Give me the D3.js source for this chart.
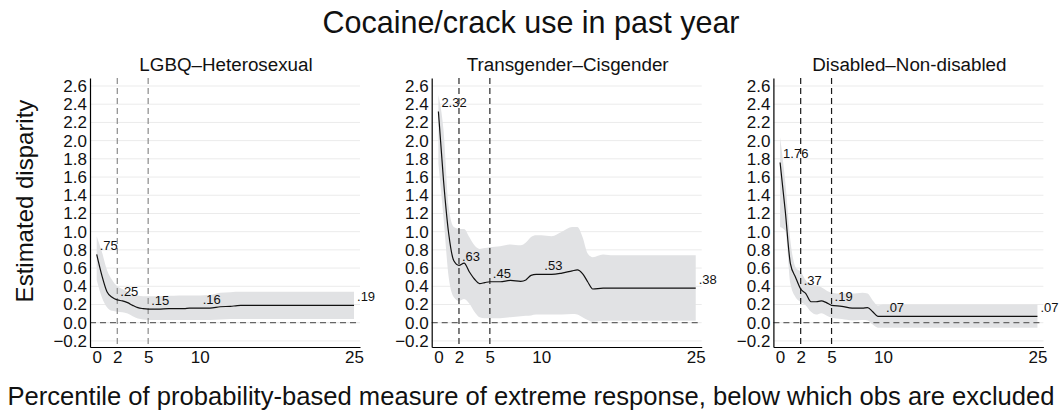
<!DOCTYPE html>
<html>
<head>
<meta charset="utf-8">
<script src="https://cdn.jsdelivr.net/npm/d3@7"></script>
<style>
  html, body { margin: 0; padding: 0; background: #fff; }
  svg { display: block; }
  text { font-family: "Liberation Sans", Arial, Helvetica, sans-serif; fill: #111; }
</style>
</head>
<body>
<svg id="chart" width="1063" height="416"></svg>
<script>
// Percentile cut-offs at which the disparity was re-estimated
const pcts = [0, 0.5, 1, 1.5, 2, 2.5, 3, 3.5, 4, 4.5, 5, 6, 7, 8, 8.5, 9, 9.5, 10, 11, 12, 13, 13.5, 14, 14.5, 15, 16, 17, 20, 25];

// LGBQ–Heterosexual: estimate and confidence band
const lgbqEst = [0.75, 0.52, 0.34, 0.28, 0.25, 0.24, 0.22, 0.19, 0.165, 0.155, 0.15, 0.15, 0.155, 0.155, 0.155, 0.16, 0.16, 0.16, 0.16, 0.175, 0.18, 0.185, 0.19, 0.19, 0.19, 0.19, 0.19, 0.19, 0.19];
const lgbqHi  = [0.95, 0.78, 0.58, 0.47, 0.40, 0.37, 0.34, 0.31, 0.30, 0.29, 0.29, 0.29, 0.295, 0.30, 0.30, 0.30, 0.30, 0.30, 0.305, 0.33, 0.335, 0.34, 0.34, 0.34, 0.34, 0.34, 0.34, 0.34, 0.34];
const lgbqLo  = [0.47, 0.28, 0.17, 0.13, 0.12, 0.115, 0.10, 0.07, 0.045, 0.035, 0.03, 0.03, 0.03, 0.03, 0.03, 0.03, 0.03, 0.03, 0.03, 0.035, 0.04, 0.04, 0.04, 0.04, 0.04, 0.04, 0.04, 0.04, 0.04];

// Transgender–Cisgender
const transEst = [2.32, 1.56, 0.98, 0.68, 0.63, 0.655, 0.56, 0.48, 0.43, 0.44, 0.45, 0.45, 0.465, 0.455, 0.47, 0.52, 0.53, 0.53, 0.53, 0.545, 0.57, 0.58, 0.54, 0.45, 0.37, 0.38, 0.38, 0.38, 0.38];
const transHi  = [2.50, 2.11, 1.27, 1.05, 1.03, 1.03, 0.94, 0.85, 0.81, 0.82, 0.83, 0.84, 0.86, 0.85, 0.88, 0.94, 0.96, 0.96, 0.95, 1.00, 1.05, 1.05, 0.94, 0.76, 0.72, 0.75, 0.74, 0.74, 0.74];
const transLo  = [1.75, 1.15, 0.50, 0.28, 0.24, 0.26, 0.21, 0.12, 0.06, 0.05, 0.05, 0.05, 0.06, 0.07, 0.075, 0.08, 0.09, 0.09, 0.09, 0.09, 0.095, 0.09, 0.06, 0.03, 0.01, 0.02, 0.02, 0.02, 0.02];

// Disabled–Non-disabled
const disabEst = [1.76, 1.23, 0.65, 0.50, 0.37, 0.32, 0.23, 0.23, 0.24, 0.22, 0.19, 0.18, 0.16, 0.16, 0.165, 0.12, 0.07, 0.07, 0.07, 0.07, 0.07, 0.07, 0.07, 0.07, 0.07, 0.07, 0.07, 0.07, 0.07];
const disabHi  = [2.04, 1.55, 0.90, 0.61, 0.56, 0.465, 0.41, 0.41, 0.39, 0.355, 0.33, 0.32, 0.32, 0.33, 0.32, 0.245, 0.19, 0.20, 0.20, 0.20, 0.20, 0.20, 0.20, 0.20, 0.20, 0.20, 0.20, 0.20, 0.20];
const disabLo  = [1.05, 1.01, 0.43, 0.28, 0.23, 0.19, 0.12, 0.09, 0.105, 0.08, 0.055, 0.04, 0.025, 0.03, 0.025, -0.02, -0.055, -0.055, -0.055, -0.055, -0.055, -0.055, -0.055, -0.055, -0.055, -0.055, -0.055, -0.055, -0.055];

const panelTitles = ["LGBQ\u2013Heterosexual", "Transgender\u2013Cisgender", "Disabled\u2013Non-disabled"];
const labelPcts = [0, 2, 5, 10, 25];
const refLines = [2, 5];
const yTicks = [-0.2, 0, 0.2, 0.4, 0.6, 0.8, 1.0, 1.2, 1.4, 1.6, 1.8, 2.0, 2.2, 2.4, 2.6];
const xTicks = [0, 2, 5, 10, 25];
const chartTitle = "Cocaine/crack use in past year";
const yTitle = "Estimated disparity";
const xTitle = "Percentile of probability-based measure of extreme response, below which obs are excluded";

const series = [
  { est: lgbqEst, lo: lgbqLo, hi: lgbqHi, refColor: "#8a8a8a" },
  { est: transEst, lo: transLo, hi: transHi, refColor: "#2a2a2a" },
  { est: disabEst, lo: disabLo, hi: disabHi, refColor: "#1a1a1a" }
];

const svg = d3.select("#chart");
const plotTop = 78, plotH = 269, plotW = 270;
const firstLeft = 90, panelStep = 341.7;

const x = d3.scaleLinear().domain([-0.65, 25.58]).range([0, plotW]);
const y = d3.scaleLinear().domain([-0.267, 2.688]).range([plotH, 0]);

const fmtTick = d3.format(".1f");
const fmtVal = v => d3.format(".2f")(v).replace(/^0\./, ".").replace(/^-0\./, "-.");

// Overall title
svg.append("text")
  .attr("x", 531).attr("y", 33)
  .attr("text-anchor", "middle")
  .style("font-size", "30.5px")
  .text(chartTitle);

// Shared y title
svg.append("text")
  .attr("transform", "translate(33,201) rotate(-90)")
  .attr("text-anchor", "middle")
  .style("font-size", "24px")
  .text(yTitle);

// Shared x title
svg.append("text")
  .attr("x", 531).attr("y", 405)
  .attr("text-anchor", "middle")
  .style("font-size", "25.6px")
  .text(xTitle);

series.forEach((s, i) => {
  const g = svg.append("g")
    .attr("transform", `translate(${firstLeft + i * panelStep},${plotTop})`);

  const rows = pcts.map((p, k) => ({ p, est: s.est[k], lo: s.lo[k], hi: s.hi[k] }));

  // Panel title
  g.append("text")
    .attr("x", plotW / 2 + 1).attr("y", -7)
    .attr("text-anchor", "middle")
    .style("font-size", "18.8px")
    .text(panelTitles[i]);

  // Horizontal grid lines
  g.selectAll(".grid").data(yTicks).join("line")
    .attr("x1", 0).attr("x2", plotW)
    .attr("y1", d => y(d)).attr("y2", d => y(d))
    .attr("stroke", "#ebebeb").attr("stroke-width", 1);

  // Confidence band
  g.append("path")
    .datum(rows)
    .attr("fill", "#e1e2e4")
    .attr("d", d3.area()
      .curve(d3.curveMonotoneX)
      .x(d => x(d.p)).y0(d => y(d.lo)).y1(d => y(d.hi)));

  // Zero reference
  g.append("line")
    .attr("x1", 0).attr("x2", plotW)
    .attr("y1", y(0)).attr("y2", y(0))
    .attr("stroke", "#666").attr("stroke-width", 1.3)
    .attr("stroke-dasharray", "6,4");

  // Cut-off reference lines
  g.selectAll(".ref").data(refLines).join("line")
    .attr("x1", d => x(d)).attr("x2", d => x(d))
    .attr("y1", 0).attr("y2", plotH)
    .attr("stroke", s.refColor).attr("stroke-width", 1.2)
    .attr("stroke-dasharray", "6,4");

  // Estimate
  g.append("path")
    .datum(rows)
    .attr("fill", "none")
    .attr("stroke", "#111").attr("stroke-width", 1.2)
    .attr("d", d3.line()
      .curve(d3.curveMonotoneX)
      .x(d => x(d.p)).y(d => y(d.est)));

  // Value labels
  const labelled = rows.filter(d => labelPcts.includes(d.p));
  g.selectAll(".val").data(labelled).join("text")
    .attr("x", d => x(d.p) + 3)
    .attr("y", d => y(d.est) - 4)
    .style("font-size", "13px")
    .text(d => fmtVal(d.est));

  // Axes
  const yAxis = d3.axisLeft(y).tickValues(yTicks).tickFormat(fmtTick).tickSize(0).tickPadding(3);
  const xAxis = d3.axisBottom(x).tickValues(xTicks).tickSize(0).tickPadding(4);

  const ya = g.append("g").call(yAxis);
  const xa = g.append("g").attr("transform", `translate(0,${plotH})`).call(xAxis);
  [ya, xa].forEach(a => {
    a.select(".domain").attr("stroke", "#000").attr("stroke-width", 1.2);
    a.selectAll("text").style("font-size", "17px").attr("fill", "#111")
      .style("font-family", "'Liberation Sans', Arial, Helvetica, sans-serif");
  });
});
</script>
</body>
</html>
